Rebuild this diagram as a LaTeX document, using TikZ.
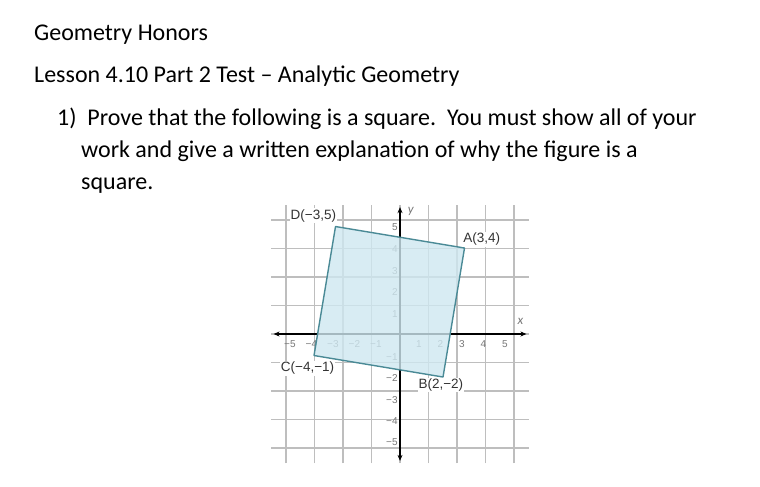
\documentclass[tikz,border=0pt]{standalone}
\usepackage{fontspec}
\setmainfont{Carlito}
\newfontfamily\arialf{Liberation Sans}
\usetikzlibrary{arrows.meta}
\definecolor{gridc}{HTML}{BEBEBE}
\definecolor{sqfill}{HTML}{CFE8F1}
\definecolor{sqedge}{HTML}{4A8A96}
\definecolor{tickc}{HTML}{777777}
\definecolor{lblc}{HTML}{333333}
\begin{document}
\begin{tikzpicture}[x=1pt,y=-1pt,
  txt/.style={anchor=base west, inner sep=0pt, font=\fontsize{24}{28}\selectfont},
  tick/.style={text=tickc, inner sep=0.5pt, font=\arialf\fontsize{10}{11}\selectfont},
  ptlabel/.style={text=lblc, fill=white, inner sep=1pt, font=\arialf\fontsize{13.5}{14}\selectfont},
  axislbl/.style={text=tickc, inner sep=0pt, font=\itshape\fontsize{13}{14}\selectfont},
  axisline/.style={black, line width=1.6pt, {Stealth[length=6pt,width=5pt]}-{Stealth[length=6pt,width=5pt]}}]
\useasboundingbox (0,0) rectangle (760,487);
\fill[white] (0,0) rectangle (760,487);
\node[txt] (t1) at (34,41) {Geometry Honors};
\node[txt] (t2) at (34,82) {Lesson 4.10 Part 2 Test -- Analytic Geometry};
\node[txt] (t3) at (57,125) {1)\ \ Prove that the following is a square.\ \ You must show all of your};
\node[txt] (t4) at (81,157) {work and give a written explanation of why the figure is a};
\node[txt] (t5) at (81,189) {square.};
\begin{scope}[shift={(400pt,-334pt)}, x=21.5pt, y=21.5pt]
  \draw[gridc, line width=1.4pt] (-6,-6) grid (6,6);
  \foreach \i in {-5,...,-1,1,2,3,4,5} {
    \node[tick] (xt\i) at (\i-0.12,-0.45) {\ifnum\i<0 −\the\numexpr-\i\relax\else\i\fi};
    \node[tick, anchor=east] (yt\i) at (-0.08,\i-0.05) {\ifnum\i<0 −\the\numexpr-\i\relax\else\i\fi};
  }
  \coordinate (xl) at (-5.88,0); \coordinate (xr) at (5.88,0);
  \coordinate (yb) at (0,-5.9); \coordinate (yt) at (0,5.9);
  \draw[axisline] (xl) -- (xr);
  \draw[axisline] (yb) -- (yt);
  \coordinate (A) at (3,4);
  \coordinate (B) at (2,-2);
  \coordinate (C) at (-4,-1);
  \coordinate (D) at (-3,5);
  \fill[sqfill, fill opacity=0.8] (D) -- (A) -- (B) -- (C) -- cycle;
  \draw[sqedge, line width=1.4pt, line join=round] (D) -- (A) -- (B) -- (C) -- cycle;
  \node[axislbl] (xlab) at (5.6,0.6) {x};
  \node[axislbl] (ylab) at (0.5,5.7) {y};
  \node[ptlabel] (Dl) at (-4.03,5.5) {D(−3,5)};
  \node[ptlabel] (Al) at (3.8,4.4) {A(3,4)};
  \node[ptlabel] (Cl) at (-4.3,-1.6) {C(−4,−1)};
  \node[ptlabel] (Bl) at (1.9,-2.37) {B(2,−2)};
\end{scope}
\end{tikzpicture}
\end{document}
